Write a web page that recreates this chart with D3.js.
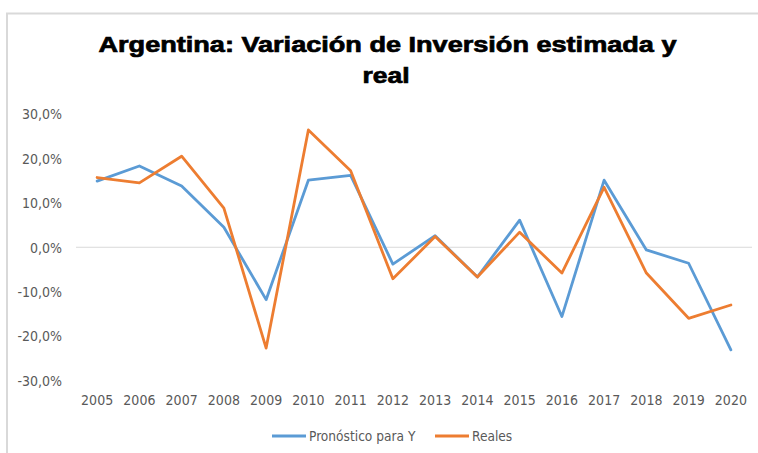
<!DOCTYPE html>
<html>
<head>
<meta charset="utf-8">
<script src="https://cdn.jsdelivr.net/npm/d3@7"></script>
<style>
  body { margin: 0; background: #fff; }
  svg { display: block; }
  .tick text { font-family: "Liberation Sans Narrow", "DejaVu Sans Condensed", sans-serif; font-size: 14px; fill: #595959; }
  .legend text { font-family: "Liberation Sans Narrow", "DejaVu Sans Condensed", sans-serif; font-size: 13.6px; fill: #595959; }
</style>
</head>
<body>
<div id="chart"></div>
<script>
var years = ['2005', '2006', '2007', '2008', '2009', '2010', '2011', '2012',
  '2013', '2014', '2015', '2016', '2017', '2018', '2019', '2020'];

// valores en %
var pronostico = [14.9, 18.3, 13.8, 4.5, -11.8, 15.1, 16.2, -3.8,
  2.6, -6.7, 6.1, -15.6, 15.1, -0.6, -3.6, -23.1];
var reales = [15.7, 14.5, 20.5, 8.8, -22.7, 26.4, 17.2, -7.1,
  2.4, -6.7, 3.4, -5.8, 13.5, -5.8, -16.0, -13.0];

var yTicks = [-30, -20, -10, 0, 10, 20, 30];

var seriesNames = ['Pronóstico para Y', 'Reales'];
var colors = ['#5b9bd5', '#ed7d31'];

var W = 758, H = 453;
var margin = { top: 114, left: 76, right: 6, bottom: 72.5 };
var width = W - margin.left - margin.right;
var height = H - margin.top - margin.bottom;

var svg = d3.select('#chart').append('svg')
  .attr('width', W)
  .attr('height', H);

// borde del area del grafico
svg.append('rect')
  .attr('x', 7)
  .attr('y', 13.5)
  .attr('width', W + 10)
  .attr('height', H + 10)
  .attr('fill', 'none')
  .attr('stroke', '#d9d9d9')
  .attr('stroke-width', 2);

// titulo (ensanchado como en el original)
function titleLine(txt, cx, cy, len) {
  svg.append('text')
    .attr('x', cx - len / 2)
    .attr('y', cy)
    .attr('textLength', len)
    .attr('lengthAdjust', 'spacingAndGlyphs')
    .style('font-family', '"Liberation Sans", Arial, sans-serif')
    .style('font-weight', 'bold')
    .style('font-size', '22px')
    .attr('fill', '#000')
    .attr('stroke', '#000')
    .attr('stroke-width', 0.7)
    .text(txt);
}
titleLine('Argentina: Variación de Inversión estimada y', 387.5, 52, 578);
titleLine('real', 386, 83, 47);

var g = svg.append('g')
  .attr('transform', 'translate(' + margin.left + ',' + margin.top + ')');

var x = d3.scaleBand()
  .domain(years)
  .range([0, width]);

var y = d3.scaleLinear()
  .domain([-30, 30])
  .range([height, 0]);

var fmt = function(d) { return d.toFixed(1).replace('.', ',') + '%'; };

var yAxis = g.append('g')
  .call(d3.axisLeft(y).tickValues(yTicks).tickFormat(fmt).tickSize(0).tickPadding(14));
yAxis.select('.domain').remove();
yAxis.selectAll('text').attr('dy', '0.35em');

var xAxis = g.append('g')
  .attr('transform', 'translate(0,' + height + ')')
  .call(d3.axisBottom(x).tickSize(0).tickPadding(15));
xAxis.select('.domain').remove();

// linea del cero
g.append('line')
  .attr('x1', 0)
  .attr('x2', width)
  .attr('y1', y(0))
  .attr('y2', y(0))
  .attr('stroke', '#d9d9d9')
  .attr('stroke-width', 1);

var line = d3.line()
  .x(function(d, i) { return x(years[i]) + x.bandwidth() / 2; })
  .y(function(d) { return y(d); });

[pronostico, reales].forEach(function(s, i) {
  g.append('path')
    .datum(s)
    .attr('fill', 'none')
    .attr('stroke', colors[i])
    .attr('stroke-width', 2.8)
    .attr('stroke-linejoin', 'round')
    .attr('stroke-linecap', 'round')
    .attr('d', line);
});

// leyenda
var legend = svg.append('g').attr('class', 'legend');
var legendX = [272, 435];
seriesNames.forEach(function(name, i) {
  var lg = legend.append('g').attr('transform', 'translate(' + legendX[i] + ',436)');
  lg.append('line')
    .attr('x1', 0).attr('x2', 34)
    .attr('stroke', colors[i])
    .attr('stroke-width', 2.8);
  lg.append('text')
    .attr('x', 37)
    .attr('dy', '0.35em')
    .text(name);
});
</script>
</body>
</html>
